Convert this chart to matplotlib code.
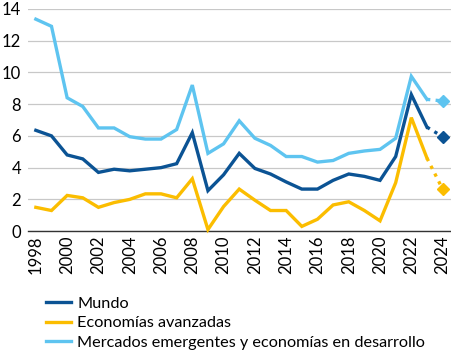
import matplotlib.pyplot as plt
import numpy as np

plt.rcParams["font.family"] = ["Lato", "DejaVu Sans"]

years = np.arange(1998, 2025)

# Inflación anual (%); 2024 es proyección
mundo = [6.35, 6.0, 4.8, 4.55, 3.7, 3.9, 3.8, 3.9, 4.0, 4.25, 6.2, 2.55, 3.55,
         4.9, 3.95, 3.6, 3.1, 2.65, 2.65, 3.2, 3.6, 3.45, 3.2, 4.7, 8.6, 6.55, 5.95]
avanzadas = [1.5, 1.3, 2.25, 2.1, 1.5, 1.8, 2.0, 2.35, 2.35, 2.1, 3.3, 0.1, 1.55,
             2.65, 1.95, 1.3, 1.3, 0.3, 0.75, 1.65, 1.85, 1.3, 0.65, 3.05, 7.15, 4.6, 2.65]
emergentes = [13.35, 12.9, 8.4, 7.85, 6.5, 6.5, 5.95, 5.8, 5.8, 6.4, 9.2, 4.9, 5.5,
              6.95, 5.85, 5.4, 4.7, 4.7, 4.35, 4.45, 4.9, 5.05, 5.15, 5.85, 9.75, 8.3, 8.2]

series = [
    ("Mundo", mundo, "#0b5394"),
    ("Economías avanzadas", avanzadas, "#fbbd00"),
    ("Mercados emergentes y economías en desarrollo", emergentes, "#5ec4f0"),
]

fig = plt.figure(figsize=(4.52, 3.54), dpi=100)
ax = fig.add_axes([0.062, 0.347, 0.938, 0.628])

# Draw in reverse so "Mundo" ends up on top
for name, vals, color in reversed(series):
    vals = np.asarray(vals)
    ax.plot(years[:-1], vals[:-1], color=color, lw=2.4, label=name,
            solid_joinstyle="miter", clip_on=False, zorder=3)
    ax.plot(years[-2:], vals[-2:], color=color, lw=2.4, ls=(0, (1, 1.6)),
            clip_on=False, zorder=3)
    ax.plot(years[-1], vals[-1], marker="D", ms=6.5, color=color,
            clip_on=False, zorder=4)

ax.set_xlim(1997.5, 2024.6)
ax.set_ylim(0, 14)
ax.set_yticks(np.arange(0, 15, 2))
ax.set_xticks(np.arange(1998, 2025, 2))
ax.tick_params(axis="x", rotation=90, length=0, pad=3, labelsize=12)
ax.tick_params(axis="y", length=0, pad=5, labelsize=12)
ax.grid(axis="y", color="#c8c8c8", lw=0.9)
ax.set_axisbelow(True)
for side in ["left", "right", "top"]:
    ax.spines[side].set_visible(False)
ax.spines["bottom"].set_color("#333333")
ax.spines["bottom"].set_linewidth(1.0)

handles, labels = ax.get_legend_handles_labels()
fig.legend(handles[::-1], labels[::-1], loc="lower left",
           bbox_to_anchor=(0.07, -0.03), frameon=False, fontsize=11.7,
           handlelength=1.5, handletextpad=0.4, labelspacing=0.33)

fig.savefig("out.png", dpi=100)
plt.close(fig)
